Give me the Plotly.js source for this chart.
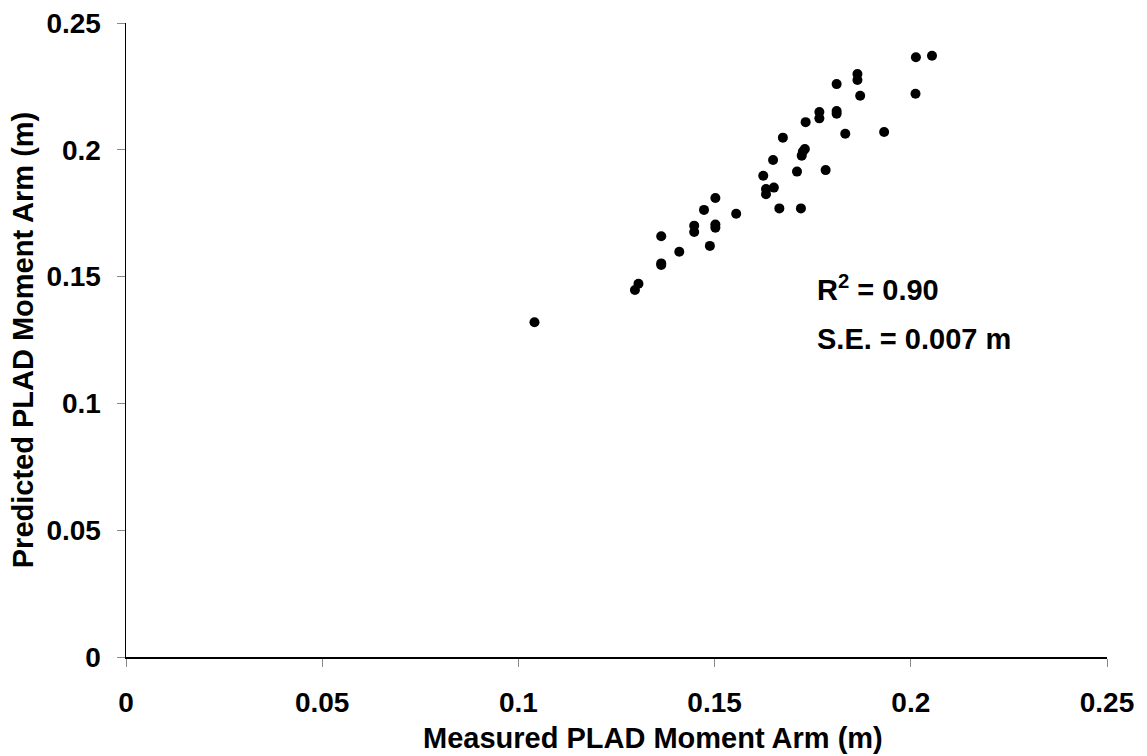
<!DOCTYPE html>
<html><head><meta charset="utf-8">
<script src="https://cdn.plot.ly/plotly-3.0.1.min.js"></script>
<style>html,body{margin:0;padding:0;background:#fff}</style>
</head><body>
<div id="chart" style="width:1147px;height:756px"></div>
<script>
const measured = [0.2013,0.2054,0.1864,0.1864,0.1811,0.1871,0.2012,0.1767,0.1767,0.1811,0.1811,0.1732,0.1833,0.1932,0.1674,0.1730,0.1725,0.1722,0.1649,0.1624,0.1710,0.1783,0.1651,0.1631,0.1631,0.1665,0.1720,0.1502,0.1473,0.1555,0.1448,0.1448,0.1502,0.1502,0.1364,0.1364,0.1364,0.1410,0.1488,0.1297,0.1306,0.1041];
const predicted = [0.2365,0.2371,0.2299,0.2275,0.2259,0.2213,0.2221,0.2149,0.2124,0.2153,0.2142,0.2109,0.2063,0.2070,0.2048,0.2003,0.1993,0.1977,0.1960,0.1898,0.1914,0.1920,0.1851,0.1845,0.1825,0.1769,0.1769,0.1810,0.1763,0.1748,0.1701,0.1676,0.1705,0.1693,0.1659,0.1552,0.1546,0.1598,0.1621,0.1447,0.1472,0.1320];
const tickVals = [0,0.05,0.1,0.15,0.2,0.25];
const tickText = ["0","0.05","0.1","0.15","0.2","0.25"];
const xTitle = "Measured PLAD Moment Arm (m)";
const yTitle = "Predicted PLAD Moment Arm (m)";
const notes = ["R<sup>2</sup> = 0.90", "S.E. = 0.007 m"];

const fontFam = "Liberation Sans, Arial, sans-serif";
const FS = 29;
const axisCommon = {
  range:[0,0.25], tickvals:tickVals, ticktext:tickText,
  showgrid:false, zeroline:false, showline:true, linecolor:'#000', linewidth:1.5,
  ticks:'outside', ticklen:8, tickcolor:'#888', tickwidth:1,
  tickfont:{family:fontFam, size:28, color:'#000', weight:'bold'},
  fixedrange:true
};
Plotly.newPlot('chart', [{
  x: measured, y: predicted, type:'scatter', mode:'markers',
  marker:{color:'#000', size:10, symbol:'circle'}, showlegend:false, hoverinfo:'none'
}], {
  width:1147, height:756,
  margin:{l:126, r:40, t:23, b:99},
  paper_bgcolor:'#fff', plot_bgcolor:'#fff',
  xaxis: Object.assign({}, axisCommon, {ticklabelstandoff:12}),
  yaxis: Object.assign({}, axisCommon, {
    ticklabelstandoff:10,
    title:{text:yTitle, font:{family:fontFam, size:FS, color:'#000', weight:'bold'}, standoff:4}
  }),
  annotations:[
    {xref:'paper', yref:'paper', x:(653-126)/981, y:(657-755)/634, xanchor:'center', yanchor:'bottom', showarrow:false,
     borderpad:0, text:xTitle, font:{family:fontFam, size:FS, color:'#000', weight:'bold'}},
    {xref:'paper', yref:'paper', x:(815-126)/981, y:(657-288)/634, xanchor:'left', yanchor:'middle', showarrow:false,
     text:notes[0], font:{family:fontFam, size:FS, color:'#000', weight:'bold'}},
    {xref:'paper', yref:'paper', x:(815-126)/981, y:(657-339)/634, xanchor:'left', yanchor:'middle', showarrow:false,
     text:notes[1], font:{family:fontFam, size:FS, color:'#000', weight:'bold'}}
  ]
}, {displayModeBar:false, staticPlot:true});
</script>
</body></html>
